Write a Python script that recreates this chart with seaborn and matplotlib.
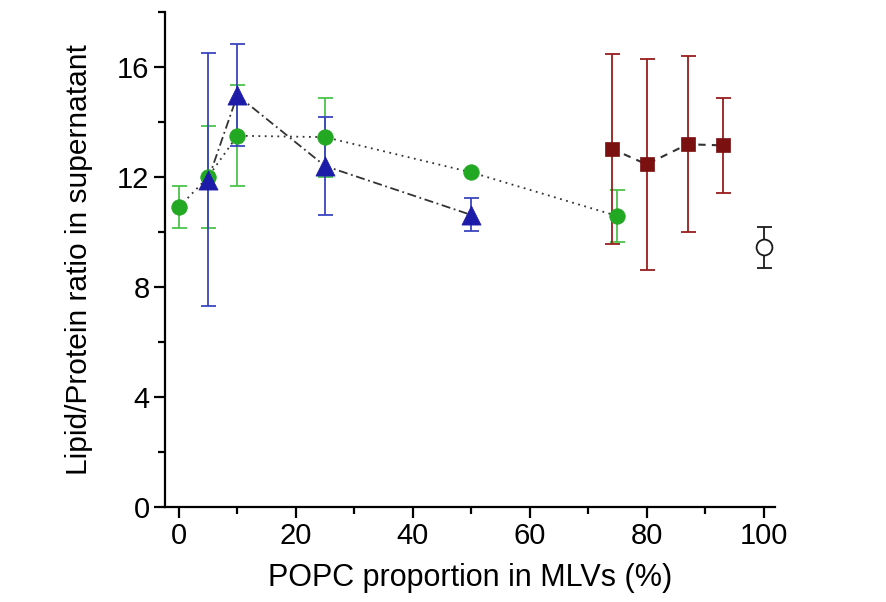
import matplotlib
matplotlib.use("Agg")
import matplotlib.pyplot as plt
from matplotlib.ticker import MultipleLocator
import seaborn as sns
import pandas as pd

# Series 1: green circles
green_x = [0, 5, 10, 25, 50, 75]
green_y = [10.9, 12.0, 13.5, 13.45, 12.17, 10.58]
green_err = [0.77, 1.87, 1.83, 1.44, 0.0, 0.93]

# Series 2: blue triangles
blue_x = [5, 10, 25, 50]
blue_y = [11.9, 14.97, 12.4, 10.62]
blue_err = [4.6, 1.85, 1.8, 0.6]

# Series 3: red squares
red_x = [74, 80, 87, 93]
red_y = [13.03, 12.46, 13.19, 13.15]
red_err = [3.45, 3.84, 3.2, 1.73]

# Single reference point (open circle)
ref_x = [100]
ref_y = [9.44]
ref_err = [0.75]

x_ticks = [0, 20, 40, 60, 80, 100]
y_ticks = [0, 4, 8, 12, 16]

sns.set_theme(style="ticks")
plt.rcParams["font.family"] = ["Liberation Sans", "DejaVu Sans"]

fig = plt.figure(figsize=(8.86, 6.02), dpi=100)
ax = fig.add_axes([0.186, 0.158, 0.689, 0.822])

cap = 5.4
elw = 1.3

# error bars
ax.errorbar(green_x, green_y, yerr=green_err, fmt="none", ecolor="#4cc44c",
            elinewidth=elw, capsize=cap, capthick=elw, zorder=2)
ax.errorbar(blue_x, blue_y, yerr=blue_err, fmt="none", ecolor="#3a45c0",
            elinewidth=elw, capsize=cap, capthick=elw, zorder=2)
ax.errorbar(red_x, red_y, yerr=red_err, fmt="none", ecolor="#9a1c1c",
            elinewidth=elw, capsize=cap, capthick=elw, zorder=2)
ax.errorbar(ref_x, ref_y, yerr=ref_err, fmt="none", ecolor="#1a1a1a",
            elinewidth=elw, capsize=cap, capthick=elw, zorder=2)

# connecting lines
green_df = pd.DataFrame({"x": green_x, "y": green_y})
blue_df = pd.DataFrame({"x": blue_x, "y": blue_y})
red_df = pd.DataFrame({"x": red_x, "y": red_y})
ref_df = pd.DataFrame({"x": ref_x, "y": ref_y})

sns.lineplot(data=green_df, x="x", y="y", ax=ax, color="#333333",
             linestyle=(0, (1, 2.5)), linewidth=1.3, zorder=3)
sns.lineplot(data=blue_df, x="x", y="y", ax=ax, color="#333333",
             linestyle=(0, (5, 2, 1, 2)), linewidth=1.3, zorder=3)
sns.lineplot(data=red_df, x="x", y="y", ax=ax, color="#333333",
             linestyle=(0, (3.5, 3)), linewidth=1.5, zorder=3)

# markers
sns.scatterplot(data=green_df, x="x", y="y", ax=ax, marker="o", s=125,
                color="#22a822", edgecolor="#22a822", linewidth=0.5, zorder=4)
sns.scatterplot(data=blue_df, x="x", y="y", ax=ax, marker="^", s=190,
                color="#1c1ca8", edgecolor="#1c1ca8", linewidth=0.5, zorder=4)
sns.scatterplot(data=red_df, x="x", y="y", ax=ax, marker="s", s=105,
                color="#7a1010", edgecolor="#7a1010", linewidth=0.5, zorder=4)
sns.scatterplot(data=ref_df, x="x", y="y", ax=ax, marker="o", s=130,
                facecolor="white", edgecolor="#1a1a1a", linewidth=1.3, zorder=4)

ax.set_xlim(-2.4, 102)
ax.set_ylim(0, 18)
ax.set_xticks(x_ticks)
ax.set_yticks(y_ticks)
ax.xaxis.set_minor_locator(MultipleLocator(10))
ax.yaxis.set_minor_locator(MultipleLocator(2))

sns.despine(ax=ax)
for side in ("left", "bottom"):
    ax.spines[side].set_linewidth(1.6)
    ax.spines[side].set_color("black")

ax.tick_params(which="major", direction="out", length=8, width=1.6,
               labelsize=21, colors="black", pad=3)
ax.tick_params(which="minor", direction="out", length=5, width=1.6,
               colors="black")

ax.set_xlabel("POPC proportion in MLVs (%)", fontsize=22, color="black")
ax.set_ylabel("Lipid/Protein ratio in supernatant", fontsize=21.5, color="black")
ax.xaxis.set_label_coords(0.5, -0.143)
ax.yaxis.set_label_coords(-0.14, 0.5)
ax.yaxis.label.set_va("center")
ax.xaxis.label.set_va("center")

fig.savefig("out.png", dpi=100, facecolor="white")
